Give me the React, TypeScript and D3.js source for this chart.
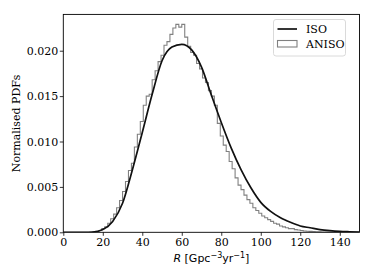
import React, { useEffect, useRef } from "react";
import * as d3 from "d3";

// ISO: smooth PDF, sampled every 5 Gpc^-3 yr^-1
const isoR = [0, 5, 10, 15, 20, 25, 30, 35, 40, 45, 50, 55, 60, 65, 70, 75, 80, 85, 90, 95, 100, 105, 110, 115, 120, 125, 130, 135, 140, 145, 150];
const isoPdf = [0, 0, 0.000002, 0.00003, 0.0003, 0.0012, 0.0032, 0.0069, 0.011, 0.0152, 0.0189, 0.0204, 0.0207, 0.0201, 0.0182, 0.0151, 0.0121, 0.0093, 0.0069, 0.0049, 0.0033, 0.0023, 0.0016, 0.0011, 0.0007, 0.0005, 0.0003, 0.00018, 0.0001, 0.00006, 0.00003];

// ANISO: histogram (step), bins of 1.5 starting at 15
const anisoBinStart = 15;
const anisoBinWidth = 1.5;
const anisoPdf = [
  0.00005, 0.0001, 0.0002, 0.0004, 0.0006, 0.001, 0.0015, 0.002, 0.0027, 0.0035,
  0.0045, 0.0056, 0.0068, 0.0076, 0.0094, 0.0108, 0.0122, 0.014, 0.015, 0.0152,
  0.0168, 0.0178, 0.0188, 0.0195, 0.0206, 0.021, 0.0218, 0.0225, 0.0229, 0.0226,
  0.0229, 0.0215, 0.0205, 0.0198, 0.0195, 0.0186, 0.018, 0.017, 0.0165, 0.0156,
  0.015, 0.014, 0.012, 0.0106, 0.0096, 0.0089, 0.0078, 0.007, 0.006, 0.0052,
  0.0047, 0.0041, 0.0036, 0.0032, 0.0027, 0.0024, 0.0021, 0.0018, 0.0016, 0.0014,
  0.0012, 0.001, 0.0009, 0.0007, 0.0006, 0.0005, 0.0004, 0.0004, 0.0003, 0.00025,
  0.0002, 0.00015, 0.00012, 0.0001, 0.00008, 0.00006, 0.00005, 0.00004, 0.00003, 0.00002,
  0.00002, 0.00001, 0.00001,
];

const xTicks = [0, 20, 40, 60, 80, 100, 120, 140];
const yTicks = [0, 0.005, 0.01, 0.015, 0.02];

export default function App() {
  const ref = useRef<SVGSVGElement>(null);

  useEffect(() => {
    document.body.style.margin = "0";
    if (!ref.current) return;
    const svg = d3.select(ref.current);
    svg.selectAll("*").remove();

    const left = 63.3, right = 359.5, top = 14.4, bottom = 232.3;
    const x = d3.scaleLinear().domain([0, 150]).range([left, right]);
    const y = d3.scaleLinear().domain([0, 0.024]).range([bottom, top]);
    const serif = "'DejaVu Serif', serif";

    const clip = svg.append("clipPath").attr("id", "plotclip");
    clip.append("rect").attr("x", left).attr("y", top).attr("width", right - left).attr("height", bottom - top);

    const plot = svg.append("g").attr("clip-path", "url(#plotclip)");

    // histogram outline
    const pts: [number, number][] = [[anisoBinStart, 0]];
    anisoPdf.forEach((v, i) => {
      const x0 = anisoBinStart + i * anisoBinWidth;
      pts.push([x0, v], [x0 + anisoBinWidth, v]);
    });
    pts.push([anisoBinStart + anisoPdf.length * anisoBinWidth, 0]);
    plot
      .append("path")
      .attr("d", d3.line<[number, number]>().x((d) => x(d[0])).y((d) => y(d[1]))(pts) as string)
      .attr("fill", "none")
      .attr("stroke", "#808080")
      .attr("stroke-width", 1.1);

    // ISO curve
    const line = d3
      .line<number>()
      .x((_, i) => x(isoR[i]))
      .y((d) => y(d))
      .curve(d3.curveMonotoneX);
    plot
      .append("path")
      .attr("d", line(isoPdf) as string)
      .attr("fill", "none")
      .attr("stroke", "#111")
      .attr("stroke-width", 1.7);

    // axes
    const xAxis = svg
      .append("g")
      .attr("transform", `translate(0,${bottom})`)
      .call(d3.axisBottom(x).tickValues(xTicks).tickSize(3.5).tickPadding(2).tickFormat(d3.format("d")));
    const yAxis = svg
      .append("g")
      .attr("transform", `translate(${left},0)`)
      .call(d3.axisLeft(y).tickValues(yTicks).tickSize(3.5).tickPadding(1.5).tickFormat(d3.format(".3f")));
    [xAxis, yAxis].forEach((g) => {
      g.select(".domain").remove();
      g.selectAll("text").style("font-family", serif).style("font-size", "11px").attr("fill", "#000");
      g.selectAll("line").attr("stroke", "#000").attr("stroke-width", 0.8);
    });

    // frame
    svg
      .append("rect")
      .attr("x", left)
      .attr("y", top)
      .attr("width", right - left)
      .attr("height", bottom - top)
      .attr("fill", "none")
      .attr("stroke", "#000")
      .attr("stroke-width", 0.9);

    // x label
    const xl = svg
      .append("text")
      .attr("x", (left + right) / 2)
      .attr("y", 262)
      .attr("text-anchor", "middle")
      .style("font-family", "'DejaVu Sans', sans-serif")
      .style("font-size", "11px");
    xl.append("tspan").style("font-style", "italic").text("R");
    xl.append("tspan").text(" [Gpc");
    xl.append("tspan").attr("dy", -4).style("font-size", "8px").text("−3");
    xl.append("tspan").attr("dy", 4).text("yr");
    xl.append("tspan").attr("dy", -4).style("font-size", "8px").text("−1");
    xl.append("tspan").attr("dy", 4).text("]");

    // y label
    svg
      .append("text")
      .attr("transform", `translate(20,${(top + bottom) / 2}) rotate(-90)`)
      .attr("text-anchor", "middle")
      .style("font-family", serif)
      .style("font-size", "11px")
      .text("Normalised PDFs");

    // legend
    const lg = svg.append("g");
    lg.append("rect")
      .attr("x", 273.5)
      .attr("y", 19.5)
      .attr("width", 72)
      .attr("height", 36.5)
      .attr("rx", 2.5)
      .attr("fill", "#fff")
      .attr("fill-opacity", 0.8)
      .attr("stroke", "#d0d0d0")
      .attr("stroke-width", 0.8);
    lg.append("line").attr("x1", 277.5).attr("x2", 297).attr("y1", 29).attr("y2", 29).attr("stroke", "#111").attr("stroke-width", 1.7);
    lg.append("rect").attr("x", 277.5).attr("y", 40.5).attr("width", 19.5).attr("height", 6.5).attr("fill", "none").attr("stroke", "#808080").attr("stroke-width", 1.1);
    lg.append("text").attr("x", 306).attr("y", 33).style("font-family", serif).style("font-size", "11px").text("ISO");
    lg.append("text").attr("x", 306).attr("y", 48).style("font-family", serif).style("font-size", "11px").text("ANISO");
  }, []);

  return <svg ref={ref} width={374} height={280} style={{ display: "block", background: "#fff" }} />;
}
